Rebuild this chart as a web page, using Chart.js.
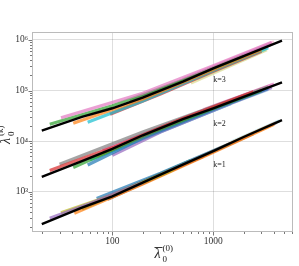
<!DOCTYPE html>
<html>
<head>
<meta charset="utf-8">
<script src="https://cdn.jsdelivr.net/npm/chart.js@4.4.1/dist/chart.umd.min.js"></script>
<style>
  html, body { margin: 0; padding: 0; background: #fff; }
  #wrap { width: 299px; height: 266px; }
</style>
</head>
<body>
<div id="wrap"><canvas id="mainChart" width="299" height="266"></canvas></div>
<script>
// black reference curves, one per k
const blackX = [20, 50, 100, 200, 500, 1000, 2000, 4800];
const blackK1 = [227, 480, 800, 1500, 3400, 6300, 12000, 26000];
const blackK2 = [1960, 4000, 7000, 13000, 27000, 44500, 75000, 145000];
const blackK3 = [16000, 30000, 44500, 72000, 150000, 275000, 480000, 970000];

// coloured runs, [x, y] pairs
const k1Runs = [
    [[24, 295], [60, 580], [200, 1500]],
    [[31, 380], [100, 850], [400, 2700]],
    [[42, 370], [200, 1400], [1000, 6000], [4000, 21500]],
    [[70, 730], [300, 2300], [1500, 9000]],
    [[90, 700], [500, 3300], [2500, 14000]],
    [[300, 2200], [3500, 19500]],
    [[200, 1450], [4200, 23000]],
    [[1500, 9500], [4500, 25000]],
    [[60, 560], [800, 5000]],
    [[50, 450], [600, 4100]]
];
const k2Runs = [
    [[24, 2600], [100, 7400], [500, 28000], [2500, 95000]],
    [[30, 3450], [200, 15000], [1000, 48000], [3500, 118000]],
    [[41, 3000], [200, 12500], [1000, 44000], [3000, 100000]],
    [[57, 3350], [200, 11500], [1000, 42000], [3500, 110000]],
    [[100, 5200], [300, 15000], [1500, 56000], [3800, 115000]],
    [[80, 6500], [1000, 49000], [4000, 135000]],
    [[70, 5000], [1000, 45000], [3000, 105000]],
    [[150, 10500], [2000, 76000]],
    [[800, 42000], [3800, 128000]],
    [[900, 38000], [3500, 105000]],
    [[60, 4200], [1500, 55000]]
];
const k3Runs = [
    [[31, 29000], [200, 88000], [1000, 310000], [3800, 900000]],
    [[24, 21500], [100, 50000], [500, 160000], [2000, 490000]],
    [[41, 22500], [200, 68000], [1000, 260000], [3000, 640000]],
    [[57, 23500], [200, 62000], [1000, 250000], [3500, 700000]],
    [[95, 34000], [300, 85000], [1000, 240000], [3000, 600000]],
    [[150, 62000], [1000, 280000], [3800, 830000]],
    [[200, 75000], [3500, 760000]],
    [[600, 140000], [3400, 640000]],
    [[700, 170000], [3300, 640000]],
    [[500, 170000], [4000, 920000]],
    [[800, 240000], [3800, 870000]],
    [[150, 58000], [2500, 560000]]
];

const k1Colors = ['#9467bd', '#bcbd22', '#ff7f0e', '#1f77b4', '#8c564b', '#ffbb78', '#c49c94', '#9edae5', '#d62728', '#2ca02c'];
const k2Colors = ['#d62728', '#7f7f7f', '#2ca02c', '#1f77b4', '#9467bd', '#e377c2', '#ff7f0e', '#8c564b', '#f7b6d2', '#9edae5', '#17becf'];
const k3Colors = ['#e377c2', '#2ca02c', '#ff7f0e', '#17becf', '#d62728', '#7f7f7f', '#9467bd', '#dbdb8d', '#9edae5', '#f7b6d2', '#c5b0d5', '#8c564b'];

// curve labels and axis ticks
const curveLabels = ['k=1', 'k=2', 'k=3'];
const curveLabelX = 1000;
const curveLabelY = [3350, 21700, 161000];
const xMajor = [100, 1000];
const yMajor = [1e3, 1e4, 1e5, 1e6];
const yTickLabels = ['10³', '10⁴', '10⁵', '10⁶'];

function minorTicks(lo, hi) {
    const out = [];
    for (let d = lo; d < hi; d *= 10) {
        for (let m = 1; m < 10; m++) out.push(d * m);
    }
    return out;
}
const xTicks = minorTicks(10, 10000).filter(v => v >= 16 && v <= 6170);
const yTicks = minorTicks(100, 1e7).filter(v => v >= 158 && v <= 1.44e6);

function hexA(hex, a) {
    const n = parseInt(hex.slice(1), 16);
    return `rgba(${n >> 16}, ${(n >> 8) & 255}, ${n & 255}, ${a})`;
}

const datasets = [];
[blackK1, blackK2, blackK3].forEach(vals => {
    datasets.push({
        data: blackX.map((x, i) => ({ x, y: vals[i] })),
        borderColor: '#000',
        borderWidth: 2.4,
        order: 0
    });
});
[[k1Runs, k1Colors], [k2Runs, k2Colors], [k3Runs, k3Colors]].forEach(([runs, cols]) => {
    runs.forEach((pts, i) => {
        datasets.push({
            data: pts.map(p => ({ x: p[0], y: p[1] })),
            borderColor: hexA(cols[i], 0.7),
            borderWidth: 3.2,
            order: 1
        });
    });
});

const serif = '"Liberation Serif", "DejaVu Serif", serif';
Chart.defaults.font.family = serif;
Chart.defaults.color = '#333';

// tick marks, frame, curve labels and math axis titles
const extras = {
    id: 'extras',
    afterDraw(chart) {
        const { ctx, chartArea: a, scales: { x, y } } = chart;
        ctx.save();
        ctx.strokeStyle = '#bbb';
        ctx.lineWidth = 1;
        ctx.strokeRect(a.left + 0.5, a.top + 0.5, a.right - a.left - 1, a.bottom - a.top - 1);

        ctx.strokeStyle = '#555';
        ctx.lineWidth = 0.8;
        ctx.beginPath();
        x.ticks.forEach(t => {
            const px = Math.round(x.getPixelForValue(t.value)) + 0.5;
            const len = xMajor.includes(t.value) ? 3.5 : 2;
            ctx.moveTo(px, a.bottom);
            ctx.lineTo(px, a.bottom + len);
        });
        y.ticks.forEach(t => {
            const py = Math.round(y.getPixelForValue(t.value)) + 0.5;
            const len = yMajor.includes(t.value) ? 3.5 : 2;
            ctx.moveTo(a.left, py);
            ctx.lineTo(a.left - len, py);
        });
        ctx.stroke();

        ctx.fillStyle = '#222';
        ctx.font = `8px ${serif}`;
        ctx.textBaseline = 'middle';
        ctx.textAlign = 'left';
        curveLabels.forEach((s, i) => {
            ctx.fillText(s, x.getPixelForValue(curveLabelX), y.getPixelForValue(curveLabelY[i]));
        });

        // x title: lambda bar, sub 0, sup (0)
        const cx = (a.left + a.right) / 2 - 8;
        ctx.textBaseline = 'alphabetic';
        ctx.font = `italic 14px ${serif}`;
        ctx.fillText('λ', cx, 258);
        ctx.lineWidth = 0.9;
        ctx.strokeStyle = '#222';
        ctx.beginPath();
        ctx.moveTo(cx, 247.5);
        ctx.lineTo(cx + 8, 247.5);
        ctx.stroke();
        ctx.font = `9px ${serif}`;
        ctx.fillText('0', cx + 8, 262);
        ctx.fillText('(0)', cx + 8, 251);

        // y title, rotated
        ctx.translate(10, (a.top + a.bottom) / 2 + 12);
        ctx.rotate(-Math.PI / 2);
        ctx.font = `italic 14px ${serif}`;
        ctx.fillText('λ', 0, 0);
        ctx.font = `9px ${serif}`;
        ctx.fillText('0', 8, 4);
        ctx.fillText('(k)', 8, -7);
        ctx.restore();
    }
};

new Chart(document.getElementById('mainChart').getContext('2d'), {
    type: 'line',
    data: { datasets },
    options: {
        responsive: false,
        animation: false,
        layout: { padding: { left: 0, top: 32, right: 6, bottom: 0 } },
        elements: { point: { radius: 0 }, line: { tension: 0, borderCapStyle: 'butt' } },
        plugins: { legend: { display: false }, tooltip: { enabled: false } },
        scales: {
            x: {
                type: 'logarithmic',
                min: 16,
                max: 6170,
                afterBuildTicks: s => { s.ticks = xTicks.map(v => ({ value: v })); },
                afterFit: s => { s.height = 34; },
                grid: {
                    drawTicks: false,
                    color: c => (c.tick && xMajor.includes(c.tick.value)) ? 'rgba(0,0,0,0.13)' : 'rgba(0,0,0,0)'
                },
                border: { display: false },
                ticks: {
                    autoSkip: false,
                    maxRotation: 0,
                    padding: 4,
                    font: { size: 9.5 },
                    callback: v => xMajor.includes(v) ? String(v) : ''
                }
            },
            y: {
                type: 'logarithmic',
                min: 158,
                max: 1.44e6,
                afterBuildTicks: s => { s.ticks = yTicks.map(v => ({ value: v })); },
                afterFit: s => { s.width = 32; },
                grid: {
                    drawTicks: false,
                    color: c => (c.tick && yMajor.includes(c.tick.value)) ? 'rgba(0,0,0,0.13)' : 'rgba(0,0,0,0)'
                },
                border: { display: false },
                ticks: {
                    autoSkip: false,
                    padding: 4,
                    font: { size: 9.5 },
                    callback: v => {
                        const i = yMajor.indexOf(v);
                        return i >= 0 ? yTickLabels[i] : '';
                    }
                }
            }
        }
    },
    plugins: [extras]
});
</script>
</body>
</html>
